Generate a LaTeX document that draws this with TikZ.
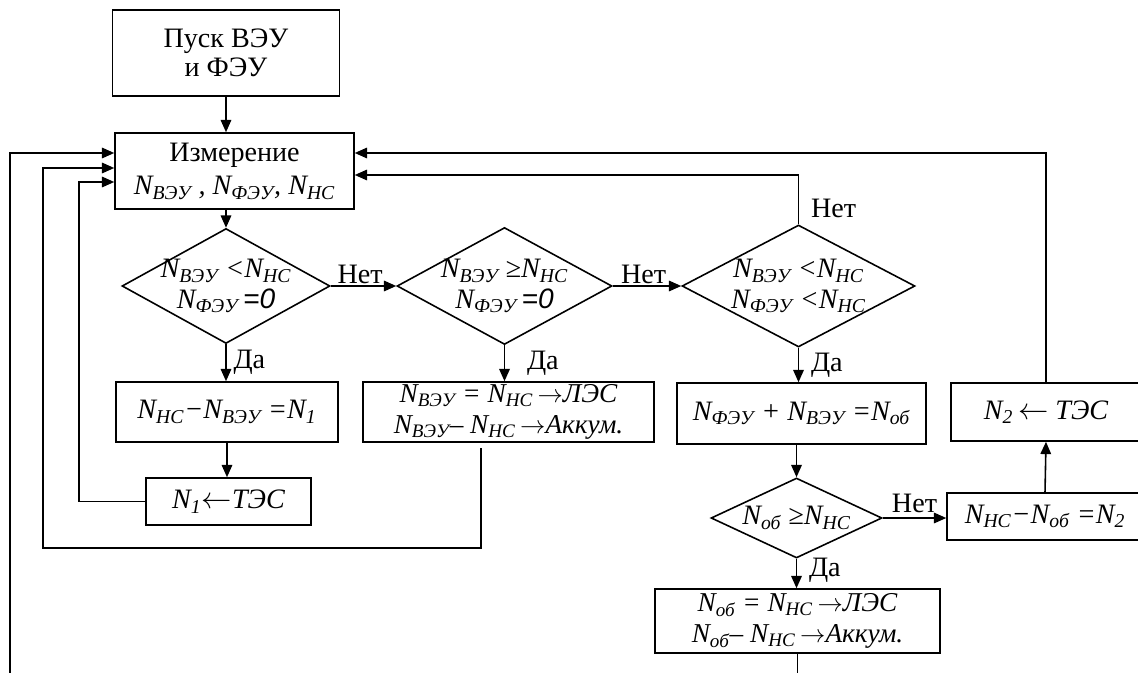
\documentclass[tikz,border=0pt]{standalone}
\usepackage{fontspec}
\setmainfont{Liberation Serif}
\newfontfamily\arialfont{Liberation Sans}
\usetikzlibrary{arrows.meta,shapes.geometric}
\newcommand{\Nx}[1]{\textit{N}\textsubscript{\textit{#1}}}
\newcommand{\vpr}{\,$\rightarrow$}
\newcommand{\vlev}{$\leftarrow$}
\tikzset{
  blok/.style={draw, line width=0.9pt, align=center, inner sep=1pt, font=\fontsize{16}{19}\selectfont},
  dvablok/.style={blok, font=\fontsize{15.5}{17.5}\selectfont},
  romb/.style={draw, diamond, line width=0.9pt, align=center, inner sep=-10pt, font=\fontsize{16}{17.5}\selectfont},
  strelka/.style={-{Triangle[length=7pt,width=6pt]}, line width=0.9pt},
  linia/.style={line width=0.9pt},
  metka/.style={font=\fontsize{16}{16}\selectfont, inner sep=1pt}
}
\begin{document}
\begin{tikzpicture}[x=0.02cm, y=-0.02cm]
\useasboundingbox (0,0) rectangle (1138,672);
\clip (0,0) rectangle (1138,672);
\node[blok, minimum width=4.54cm, minimum height=1.72cm, font=\fontsize{16}{16.5}\selectfont] (pusk) at (226,53) {Пуск ВЭУ\\и ФЭУ};
\node[blok, minimum width=4.78cm, minimum height=1.52cm] (izm) at (234.5,171) {Измерение\\{\itshape\Nx{ВЭУ} , \Nx{ФЭУ}, \Nx{НС}}};
\node[romb, minimum width=4.16cm, minimum height=2.3cm] (r1) at (226,286) {{\itshape\Nx{ВЭУ} <\Nx{НС}}\\{\itshape\Nx{ФЭУ}\,{\arialfont=0}}};
\node[romb, minimum width=4.3cm, minimum height=2.34cm] (r2) at (504.5,286) {{\itshape\Nx{ВЭУ} ≥\Nx{НС}}\\{\itshape\Nx{ФЭУ}\,{\arialfont=0}}};
\node[romb, minimum width=4.66cm, minimum height=2.44cm] (r3) at (798.5,286) {{\itshape\Nx{ВЭУ} <\Nx{НС}}\\{\itshape\Nx{ФЭУ} <\Nx{НС}}};
\node[blok, minimum width=4.44cm, minimum height=1.2cm] (b1) at (227,412) {\itshape\Nx{НС}−\Nx{ВЭУ} =\Nx{1}};
\node[dvablok, minimum width=5.82cm, minimum height=1.2cm] (b2) at (508.5,412) {{\itshape\Nx{ВЭУ} = \Nx{НС}\vpr ЛЭС}\\{\itshape\Nx{ВЭУ}– \Nx{НС}\vpr Аккум.}};
\node[blok, minimum width=4.98cm, minimum height=1.22cm] (b3) at (801.5,413.5) {\itshape\Nx{ФЭУ} + \Nx{ВЭУ} =\Nx{об}};
\node[blok, minimum width=3.8cm, minimum height=1.16cm] (b7) at (1046,412) {\itshape\Nx{2}\,\vlev\ ТЭС};
\node[blok, minimum width=3.3cm, minimum height=0.94cm] (n1) at (228.5,501.5) {\itshape\Nx{1}\vlev ТЭС};
\node[romb, minimum width=3.42cm, minimum height=1.6cm] (r4) at (796.5,518) {\itshape\Nx{об} ≥\Nx{НС}};
\node[blok, minimum width=3.92cm, minimum height=0.94cm] (b6) at (1045,516.5) {\itshape\Nx{НС}−\Nx{об} =\Nx{2}};
\node[dvablok, minimum width=5.7cm, minimum height=1.28cm] (b8) at (797.5,621) {{\itshape\Nx{об} = \Nx{НС}\vpr ЛЭС}\\{\itshape\Nx{об}– \Nx{НС}\vpr Аккум.}};
\coordinate (lv1) at (79,182);
\coordinate (lv2) at (43,168);
\coordinate (lv2n) at (43,548);
\coordinate (lv3) at (10,153);
\coordinate (lv3n) at (10,690);
\coordinate (b2out) at (481,448);
\coordinate (pv) at (1045,153);
\coordinate (pn) at (798,175);
\draw[strelka] (pusk.south) -- (pusk.south |- izm.north);
\draw[strelka] (r1.north |- izm.south) -- (r1.north);
\draw[strelka] (r1.east) -- node[metka, above, pos=0.45] {Нет} (r2.west);
\draw[strelka] (r2.east) -- node[metka, above, pos=0.45] {Нет} (r3.west);
\draw[strelka] (r1.south) -- node[metka, anchor=west, xshift=0.1cm] {Да} (r1.south |- b1.north);
\draw[strelka] (r2.south) -- node[metka, anchor=west, xshift=0.4cm] {Да} (r2.south |- b2.north);
\draw[strelka] (r3.south) -- node[metka, anchor=west, xshift=0.2cm] {Да} (r3.south |- b3.north);
\draw[strelka] (b1.south) -- (b1.south |- n1.north);
\draw[strelka] (r4.north |- b3.south) -- (r4.north);
\draw[strelka] (r4.south) -- node[metka, anchor=west, xshift=0.2cm, yshift=0.06cm] {Да} (r4.south |- b8.north);
\draw[strelka] (r4.east) -- node[metka, above, yshift=0.05cm] {Нет} (r4.east -| b6.west);
\draw[strelka] (b6.north) -- (b7.south);
\draw[strelka] (b7.north) |- (izm.east |- pv);
\draw[strelka] (r3.north) |- node[metka, pos=0.16, anchor=west, xshift=0.2cm] {Нет} (izm.east |- pn);
\draw[strelka] (n1.west) -| (lv1) -- (lv1 -| izm.west);
\draw[strelka] (b2out) |- (lv2n) -- (lv2) -- (lv2 -| izm.west);
\draw[strelka] (lv3n) |- (izm.west |- lv3);
\draw[linia] (b8.south) -- (b8.south |- lv3n);
\end{tikzpicture}
\end{document}
